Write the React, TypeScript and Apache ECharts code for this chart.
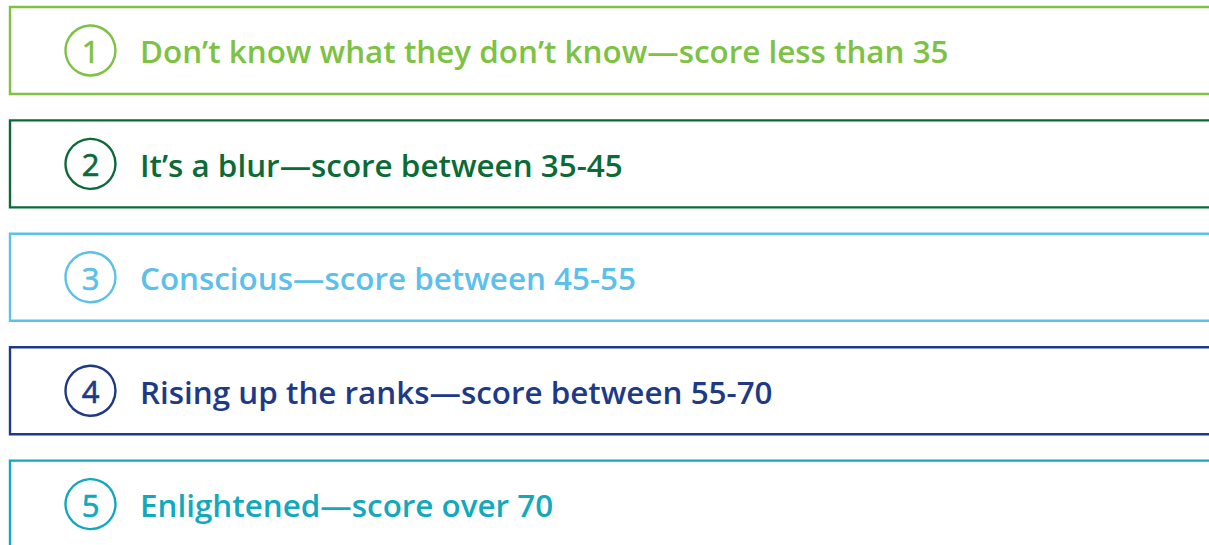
import React, { useEffect, useRef } from "react";
import * as echarts from "echarts";

const levels = ["1", "2", "3", "4", "5"];
const labels = [
  "Don’t know what they don’t know—score less than 35",
  "It’s a blur—score between 35-45",
  "Conscious—score between 45-55",
  "Rising up the ranks—score between 55-70",
  "Enlightened—score over 70",
];
const palette = ["#7DC243", "#0B6B36", "#5BC0EB", "#1E3A86", "#12A9BE"];

export default function App() {
  const ref = useRef<HTMLDivElement>(null);
  useEffect(() => {
    if (!ref.current) return;
    const chart = echarts.init(ref.current, undefined, { renderer: "svg" });
    const top0 = 7;
    const step = 113.4;
    const h = 87;
    const elements: any[] = [];
    levels.forEach((lv, i) => {
      const y = top0 + i * step;
      const cy = y + h / 2;
      const c = palette[i];
      elements.push({
        type: "rect",
        shape: { x: 10, y, width: 1400, height: h },
        style: { fill: "none", stroke: c, lineWidth: 2.4 },
      });
      elements.push({
        type: "circle",
        shape: { cx: 90.5, cy, r: 25 },
        style: { fill: "none", stroke: c, lineWidth: 2.4 },
      });
      elements.push({
        type: "text",
        x: 90.5,
        y: cy + 0.5,
        style: {
          text: lv,
          fill: c,
          stroke: c,
          lineWidth: 0.7,
          font: "400 31px 'Open Sans'",
          align: "center",
          verticalAlign: "middle",
        },
      });
      elements.push({
        type: "text",
        x: 140,
        y: cy + 0.3,
        style: {
          text: labels[i],
          fill: c,
          font: "600 31.4px 'Open Sans'",
          align: "left",
          verticalAlign: "middle",
        },
      });
    });
    chart.setOption({
      animation: false,
      backgroundColor: "#ffffff",
      graphic: { elements },
    });
    return () => chart.dispose();
  }, []);
  return (
    <div
      ref={ref}
      style={{ position: "fixed", left: 0, top: 0, width: 1209, height: 545 }}
    />
  );
}
